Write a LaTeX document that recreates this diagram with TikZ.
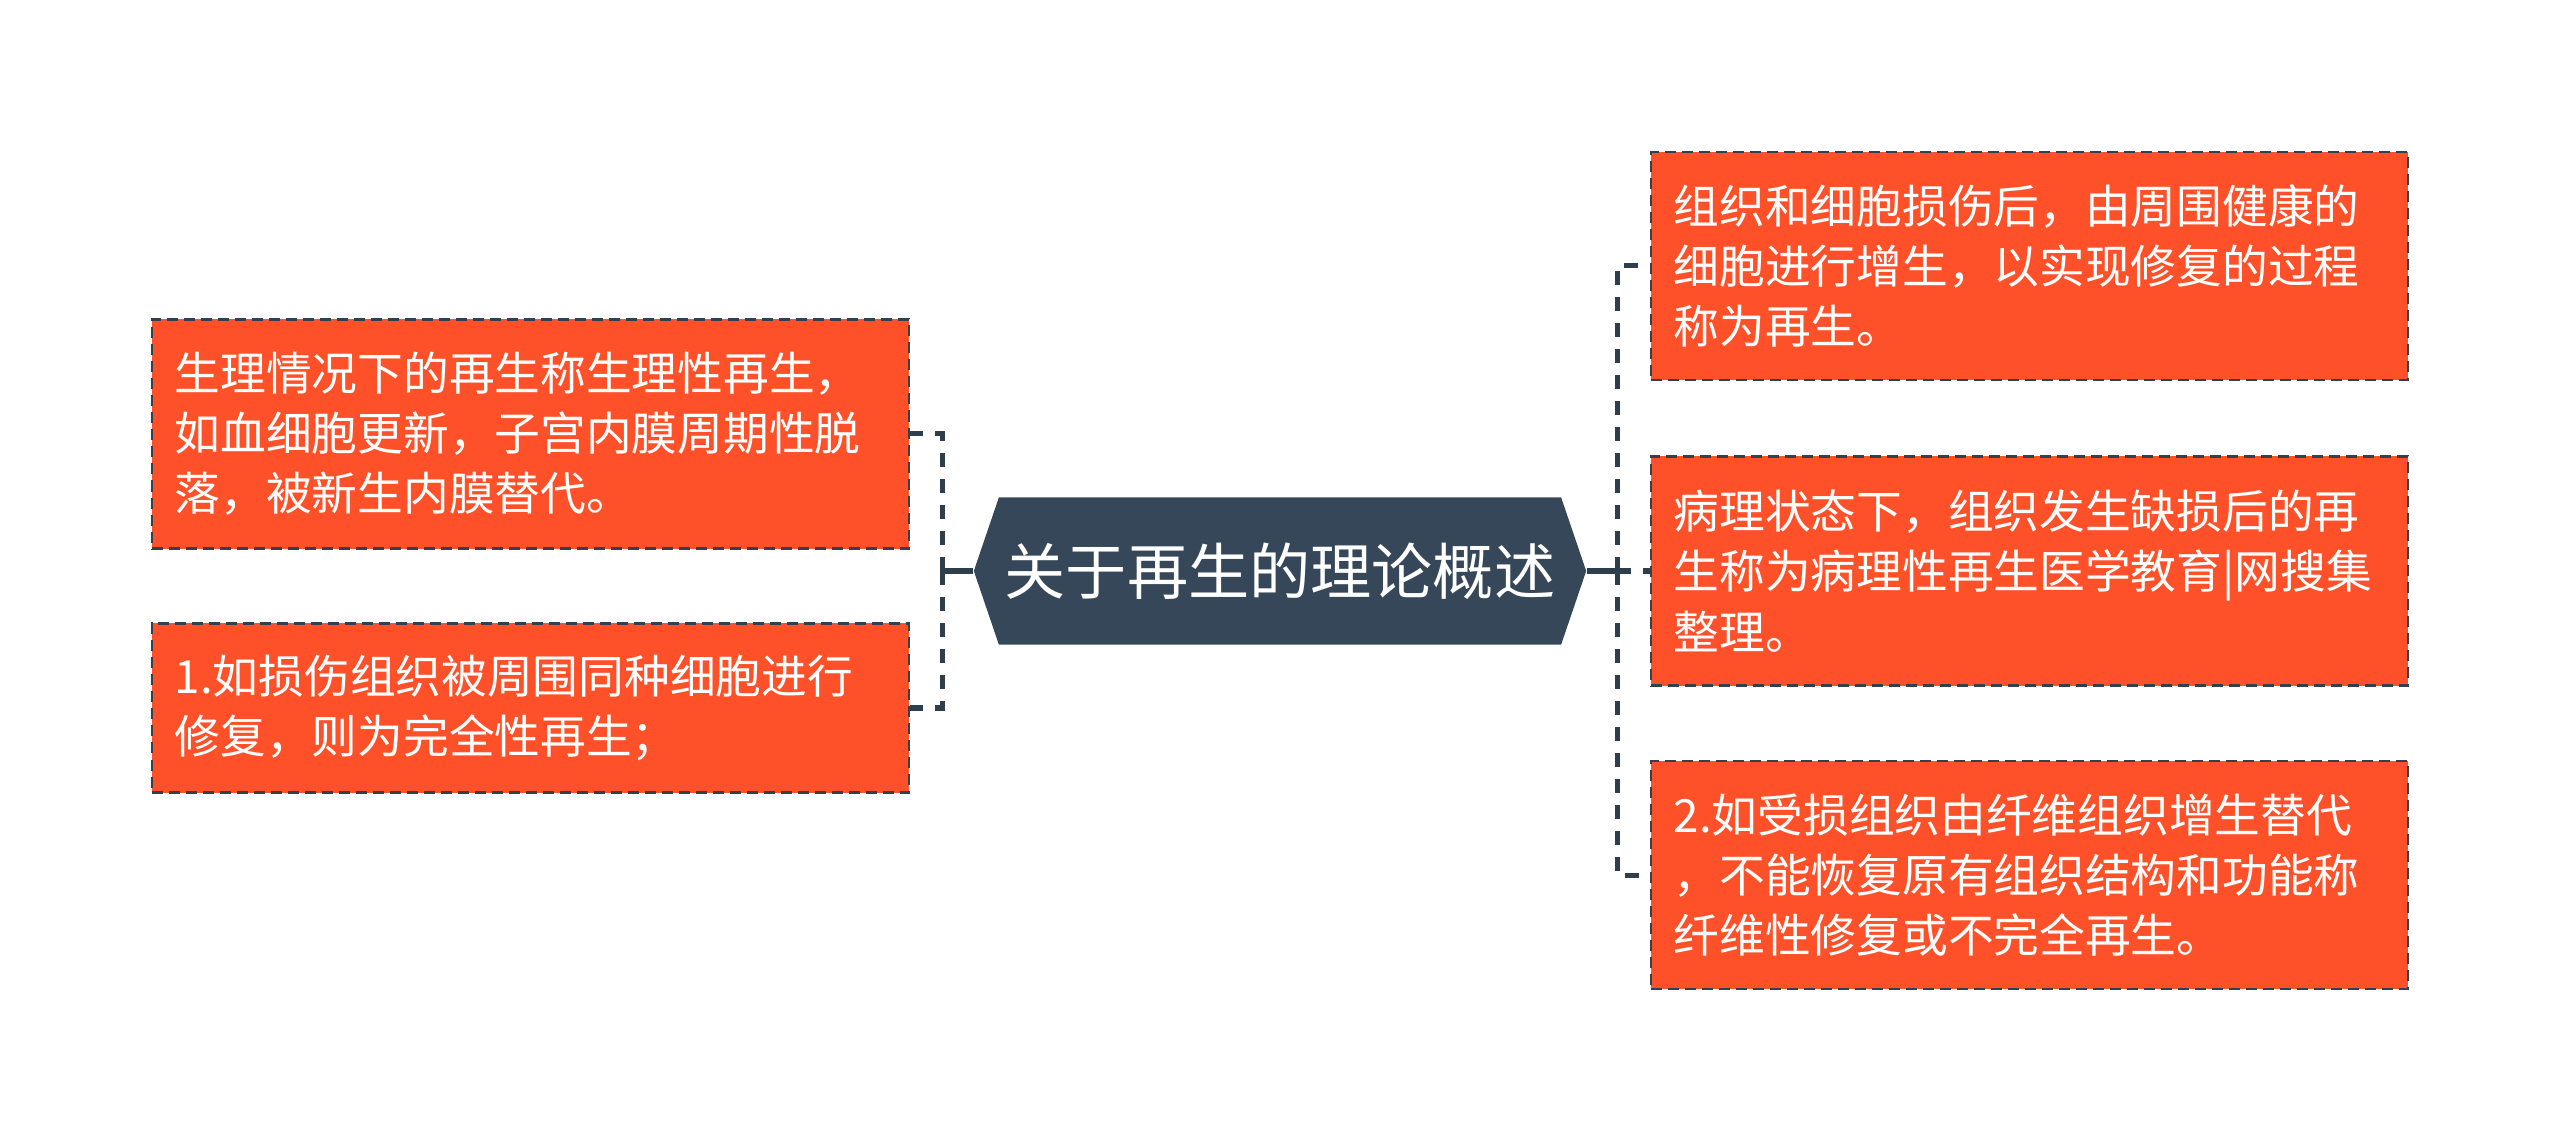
\documentclass[tikz,border=0pt]{standalone}
\usepackage{fontspec}
\newfontfamily\cjk{Noto Sans CJK SC}
\usetikzlibrary{calc}
\definecolor{boxfill}{HTML}{FF5129}
\definecolor{boxline}{HTML}{34404C}
\definecolor{hexfill}{HTML}{354758}
\definecolor{connc}{HTML}{2F3E4C}
\tikzset{
  leafbox/.style={rectangle, fill=boxfill, draw=boxline, line width=0.025cm,
    dash pattern=on 0.11cm off 0.06cm, text=white, align=left,
    text width=7.11cm, inner xsep=0.23cm, inner ysep=0cm,
    font={\cjk\fontsize{13}{17.1}\selectfont}},
  hexnode/.style={rectangle, minimum width=6.12cm, minimum height=1.47cm,
    inner sep=0pt, text=white, font={\cjk\fontsize{17.4}{20}\selectfont},
    path picture={\fill[hexfill] (path picture bounding box.west) --
      ($(path picture bounding box.north west)+(0.25cm,0)$) --
      ($(path picture bounding box.north east)+(-0.25cm,0)$) --
      (path picture bounding box.east) --
      ($(path picture bounding box.south east)+(-0.25cm,0)$) --
      ($(path picture bounding box.south west)+(0.25cm,0)$) -- cycle;}},
  conn/.style={draw=connc, line width=0.05cm, dash pattern=on 0.14cm off 0.12cm},
  trunk/.style={draw=connc, line width=0.05cm}
}
\begin{document}
\begin{tikzpicture}[x=0.01cm,y=-0.01cm]
\useasboundingbox[fill=white] (0,0) rectangle (2560,1143);
\node[hexnode] (c) at (1280,571) {关于再生的理论概述};
\node[leafbox, minimum height=2.29cm] (l1) at (530.5,434) {生理情况下的再生称生理性再生，\\如血细胞更新，子宫内膜周期性脱\\落，被新生内膜替代。};
\node[leafbox, minimum height=1.69cm] (l2) at (530.5,708) {1.如损伤组织被周围同种细胞进行\\修复，则为完全性再生；};
\node[leafbox, minimum height=2.28cm] (r1) at (2029.5,266) {组织和细胞损伤后，由周围健康的\\细胞进行增生，以实现修复的过程\\称为再生。};
\node[leafbox, minimum height=2.29cm] (r2) at (2029.5,571) {病理状态下，组织发生缺损后的再\\生称为病理性再生医学教育|网搜集\\整理。};
\node[leafbox, minimum height=2.28cm] (r3) at (2029.5,875) {2.如受损组织由纤维组织增生替代\\，不能恢复原有组织结构和功能称\\纤维性修复或不完全再生。};
\coordinate (lj) at (942,571);
\coordinate (rj) at (1617,571);
\draw[trunk] (c.west) -- (lj);
\draw[trunk] (c.east) -- (rj);
\draw[conn] (lj) |- (l1.east);
\draw[conn] (lj) |- (l2.east);
\draw[conn] (rj) |- (r1.west);
\draw[conn] (rj) |- (r2.west);
\draw[conn] (rj) |- (r3.west);
\end{tikzpicture}
\end{document}
